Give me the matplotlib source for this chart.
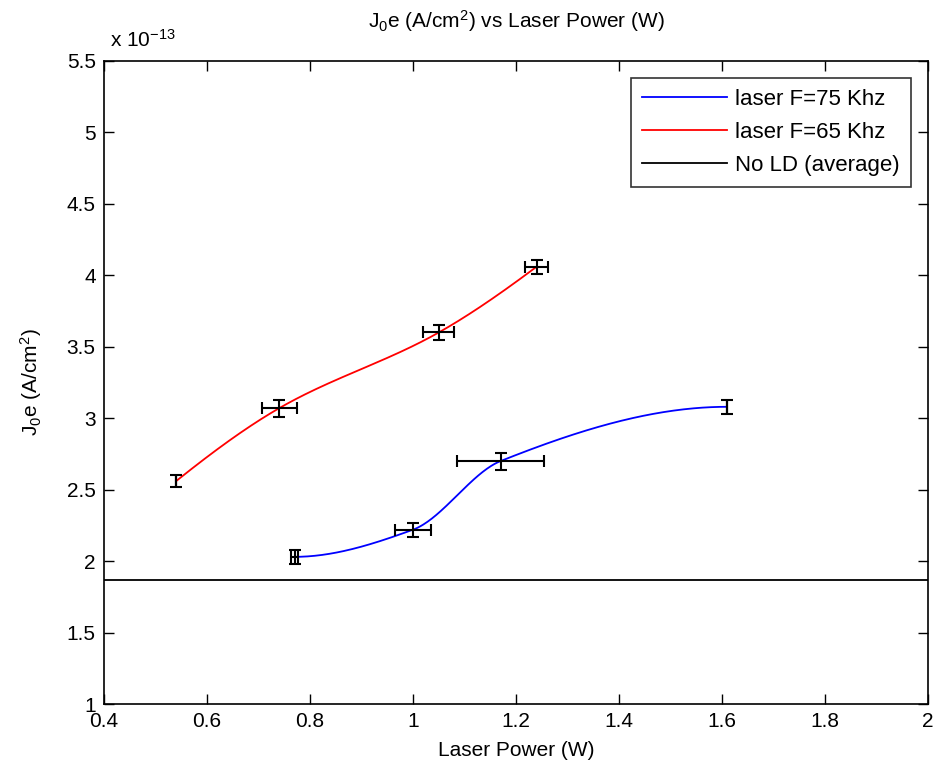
import numpy as np
import matplotlib
matplotlib.use("Agg")
import matplotlib.pyplot as plt

plt.rcParams['font.family'] = ['Liberation Sans', 'DejaVu Sans']
plt.rcParams['mathtext.default'] = 'regular'

# laser F = 75 kHz
p75 = [0.77, 1.00, 1.17, 1.61]
j75 = [2.03, 2.22, 2.70, 3.08]
p75_err = [0.006, 0.035, 0.085, 0.0]
j75_err = [0.05, 0.05, 0.06, 0.05]

# laser F = 65 kHz
p65 = [0.54, 0.74, 1.05, 1.24]
j65 = [2.56, 3.07, 3.60, 4.06]
p65_err = [0.0, 0.034, 0.03, 0.022]
j65_err = [0.04, 0.06, 0.05, 0.05]

# reference without laser doping
noLD = 1.87


def pchip(x, y, xs):
    x = np.asarray(x, float)
    y = np.asarray(y, float)
    h = np.diff(x)
    d = np.diff(y) / h
    n = len(x)
    m = np.zeros(n)
    for k in range(1, n - 1):
        if d[k - 1] * d[k] > 0:
            w1 = 2 * h[k] + h[k - 1]
            w2 = h[k] + 2 * h[k - 1]
            m[k] = (w1 + w2) / (w1 / d[k - 1] + w2 / d[k])

    def endSlope(h0, h1, d0, d1):
        s = ((2 * h0 + h1) * d0 - h0 * d1) / (h0 + h1)
        if np.sign(s) != np.sign(d0):
            s = 0.0
        elif np.sign(d0) != np.sign(d1) and abs(s) > abs(3 * d0):
            s = 3 * d0
        return s

    m[0] = endSlope(h[0], h[1], d[0], d[1])
    m[-1] = endSlope(h[-1], h[-2], d[-1], d[-2])

    idx = np.clip(np.searchsorted(x, xs) - 1, 0, n - 2)
    t = (xs - x[idx]) / h[idx]
    h00 = 2 * t**3 - 3 * t**2 + 1
    h10 = t**3 - 2 * t**2 + t
    h01 = -2 * t**3 + 3 * t**2
    h11 = t**3 - t**2
    return h00 * y[idx] + h10 * h[idx] * m[idx] + h01 * y[idx + 1] + h11 * h[idx] * m[idx + 1]


fig = plt.figure(figsize=(9.33, 7.74), dpi=100)
ax = fig.add_axes([0.1115, 0.0904, 0.883, 0.8308])

xs75 = np.linspace(p75[0], p75[-1], 300)
xs65 = np.linspace(p65[0], p65[-1], 300)
ax.plot(xs75, pchip(p75, j75, xs75), color='#0000ff', lw=1.3, label='laser F=75 Khz')
ax.plot(xs65, pchip(p65, j65, xs65), color='#ff0000', lw=1.3, label='laser F=65 Khz')
ax.axhline(noLD, color='k', lw=1.3, label='No LD (average)')

ax.errorbar(p75, j75, xerr=p75_err, yerr=j75_err, fmt='none', ecolor='k',
            elinewidth=1.5, capsize=4, capthick=1.5, zorder=3)
ax.errorbar(p65, j65, xerr=p65_err, yerr=j65_err, fmt='none', ecolor='k',
            elinewidth=1.5, capsize=4, capthick=1.5, zorder=3)

ax.set_xlim(0.4, 2)
ax.set_ylim(1, 5.5)
ax.set_xticks(np.arange(0.4, 2.01, 0.2))
ax.set_xticklabels(['0.4', '0.6', '0.8', '1', '1.2', '1.4', '1.6', '1.8', '2'])
ax.set_yticks(np.arange(1, 5.51, 0.5))
ax.set_yticklabels(['1', '1.5', '2', '2.5', '3', '3.5', '4', '4.5', '5', '5.5'])
ax.tick_params(direction='in', length=7, width=1, top=True, right=True,
               labelsize=15, pad=6)
for s in ax.spines.values():
    s.set_linewidth(1.2)

ax.set_xlabel('Laser Power (W)', fontsize=15, labelpad=7)
ax.set_ylabel('J$_0$e (A/cm$^2$)', fontsize=15, labelpad=16)
ax.set_title('J$_0$e (A/cm$^2$) vs Laser Power (W)', fontsize=15, pad=24)
fig.text(0.118, 0.935, 'x 10$^{-13}$', fontsize=15, ha='left', va='bottom')

leg = ax.legend(loc='upper right', fontsize=16, frameon=True, fancybox=False,
                edgecolor='k', handlelength=3.8, borderaxespad=0.75,
                borderpad=0.5, labelspacing=0.55, handletextpad=0.4)
leg.get_frame().set_linewidth(1.2)

fig.savefig('out.png', dpi=100, facecolor='white')
